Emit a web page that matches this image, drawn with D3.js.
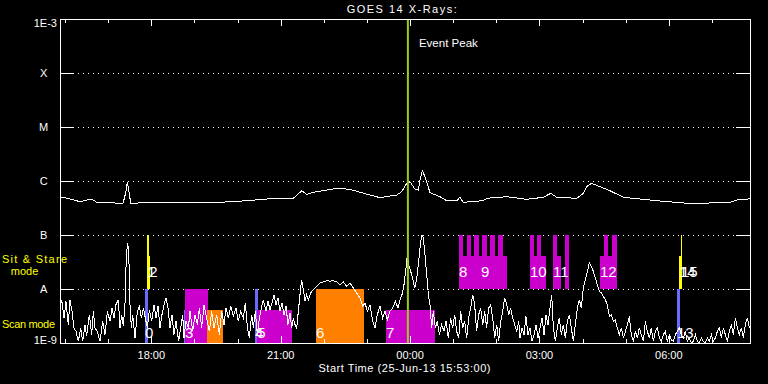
<!DOCTYPE html>
<html><head><meta charset="utf-8">
<script src="https://cdn.jsdelivr.net/npm/d3@7"></script>
<style>html,body{margin:0;padding:0;background:#000}svg{display:block}</style>
</head><body><svg id="c" width="768" height="384"></svg>
<script>
// ---------------- DATA ----------------
const titleText = "GOES 14 X-Rays:";
const xTitleText = "Start Time (25-Jun-13 15:53:00)";
const startTime = "2013-06-25T15:53:00Z";
const durationMin = 960;            // plotted span, minutes after start
const eventPeakMin = 484;           // event peak, minutes after start
const eventLabel = "Event Peak";
const levelFlux = [1e-3, 1e-4, 1e-5, 1e-6, 1e-7, 1e-8, 1e-9];
const levelLabels = ["1E-3", "X", "M", "C", "B", "A", "1E-9"];
const hourTickLabels = ["18:00", "21:00", "00:00", "03:00", "06:00"];

// GOES long channel (1-8 A): [minutes after start, flux W/m^2]
const longChannel = [
 [0,5.12e-7],[13.9,4.64e-7],[27.8,4.14e-7],[44.1,4.64e-7],[51.1,4.03e-7],[87.7,3.86e-7],
 [91.8,6.34e-7],[93.7,9.7e-7],[96.0,6.34e-7],[98.4,3.86e-7],[129.4,4.03e-7],[167.0,3.92e-7],
 [208.7,3.97e-7],[240.7,4.14e-7],[259.8,4.32e-7],[287.6,4.64e-7],[324.6,4.78e-7],[331.5,5.74e-7],
 [336.3,6.61e-7],[343.2,5.67e-7],[352.4,6.18e-7],[371.1,6.81e-7],[385.0,7.32e-7],[403.5,7.02e-7],
 [417.4,6.18e-7],[445.2,4.91e-7],[468.5,5.51e-7],[475.4,6.34e-7],[482.4,9.06e-7],[487.0,9.7e-7],
 [493.9,7.02e-7],[498.5,6.81e-7],[500.9,1.04e-6],[504.1,1.55e-6],[507.8,1.20e-6],[514.8,6.07e-7],
 [528.7,5.12e-7],[538.0,4.32e-7],[551.9,4.32e-7],[556.5,4.99e-7],[561.1,4.03e-7],[588.9,4.32e-7],
 [593.7,4.78e-7],[621.5,5.12e-7],[649.3,4.58e-7],[672.4,4.99e-7],[682.7,5.92e-7],[691.0,4.99e-7],
 [718.9,4.78e-7],[728.1,5.92e-7],[732.8,7.84e-7],[739.3,9.06e-7],[751.3,7.84e-7],[765.2,6.61e-7],
 [783.7,4.99e-7],[811.6,4.58e-7],[834.8,4.26e-7],[862.6,3.97e-7],[885.8,3.75e-7],[908.9,3.97e-7],
 [932.2,4.03e-7],[941.5,4.45e-7],[955.4,4.58e-7],[960,4.78e-7]
];

// GOES short channel (0.5-4 A): [minutes after start, flux in 1e-9 W/m^2]
const shortChannel = [
 [0,4.45],[2.3,6.34],[5.6,2.90],[8.3,5.91],[11.6,2.19],[13.9,6.34],[16.7,3.86],[19.5,1.90],[22.3,1.64],[25.5,1.07],
 [28.8,1.90],[31.5,1.07],[34.8,2.19],[37.1,1.33],[40.8,3.35],[44.1,1.43],[46.4,3.86],[48.7,1.90],[51.9,1.64],[55.7,1.07],
 [59.4,2.52],[62.6,1.43],[65.9,3.86],[69.6,2.52],[72.4,4.45],[75.1,2.90],[77.9,5.13],[81.2,6.34],[83.5,1.90],[85.8,3.35],
 [88.1,2.04],[90.4,5.13],[91.8,24.5],[93.7,71.1],[95.5,57.4],[97.4,5.13],[99.3,1.90],[101.1,3.35],[104.4,1.24],[107.6,3.86],
 [110.4,4.78],[113.2,2.90],[116.0,4.45],[118.7,2.90],[121.5,1.90],[124.3,4.14],[127.5,2.52],[130.8,5.13],[133.6,2.90],[136.4,4.78],
 [139.1,1.90],[141.9,3.35],[144.7,5.13],[147.5,6.81],[150.3,4.45],[153.1,1.90],[155.8,3.35],[158.6,1.43],[161.4,2.52],[165.1,1.07],
 [167.9,1.90],[170.7,3.35],[172.5,1.24],[175.3,2.52],[178.6,1.90],[180.9,3.86],[184.6,1.64],[187.8,3.35],[191.1,2.19],[193.9,4.45],
 [197.1,1.90],[200.4,5.13],[204.1,2.90],[207.8,1.64],[211.0,3.86],[214.3,1.90],[218.0,3.35],[221.7,1.43],[224.9,3.86],[228.2,2.19],
 [231.0,4.45],[234.2,2.90],[237.5,4.78],[241.2,3.12],[244.9,4.45],[248.1,2.52],[251.4,3.86],[255.1,2.90],[257.9,5.51],[260.7,1.90],
 [263.4,1.24],[266.7,3.35],[269.0,1.90],[271.8,3.86],[274.6,1.43],[277.4,2.90],[280.1,4.45],[282.9,6.34],[286.6,3.86],[289.4,5.91],
 [292.2,4.14],[295.0,5.51],[297.8,7.85],[300.5,5.13],[303.3,6.81],[306.1,3.86],[308.9,5.51],[311.7,3.35],[314.5,4.78],[317.2,2.19],
 [320.0,3.59],
 [322.3,1.90],[324.6,2.90],[327.0,2.19],[329.3,1.90],[331.6,3.86],[333.9,7.85],[336.2,14.9],[338.6,9.72],[340.9,5.91],[343.2,7.85],
 [345.5,6.34],[347.8,7.85],[350.1,9.05],[352.5,9.72],[357.1,11.2],[361.7,12.9],[366.4,13.5],[371.0,14.3],[375.7,13.9],[380.3,14.3],
 [384.9,13.5],[389.6,12.0],[394.2,13.5],[398.8,11.2],[403.5,12.9],[408.1,10.4],[412.8,8.43],[417.4,6.81],[421.1,4.78],[424.4,5.51],
 [427.6,3.86],[431.3,5.13],[435.0,2.52],[438.3,1.90],[441.5,3.35],[445.2,4.78],[448.9,2.90],[452.2,3.86],[455.4,2.70],[459.1,3.86],
 [462.8,4.45],[466.6,5.91],[470.3,4.45],[473.1,6.34],[475.8,7.85],[478.6,12.0],[481.4,24.5],[483.3,43.2],[485.1,28.2],[487.9,21.2],
 [490.7,16.0],[493.5,10.4],[496.2,14.9],[499.0,32.5],[501.8,76.3],[503.7,101],[505.5,88],[507.8,43.2],[510.2,18.4],[512.5,7.85],
 [514.8,5.13],[517.1,1.90],[519.4,3.86],[522.2,1.90],[525.0,2.52],[527.8,1.43],[531.0,2.19],[534.3,1.64],[537.1,2.52],[540.3,1.24],
 [543.5,2.90],[546.3,1.90],[549.1,3.35],[551.9,1.64],[554.7,1.24],[557.5,3.86],[560.2,1.90],[563.0,2.52],[565.8,1.24],[568.6,2.90],
 [571.4,4.45],[574.2,7.85],[576.9,5.13],[579.7,1.64],[582.5,3.35],[585.3,4.45],[588.1,2.19],[590.9,3.86],[593.6,1.90],[596.4,4.45],
 [599.2,5.13],[602.0,2.90],[604.8,1.24],[607.6,2.19],[610.3,1.07],[613.1,2.52],[615.9,3.86],[618.7,6.81],[621.5,5.13],[624.3,3.35],
 [627.0,4.45],[629.8,2.90],[632.6,2.19],[635.4,1.64],[638.2,2.52],
 [640.0,1.24],[642.8,1.90],[645.6,1.43],[648.3,3.12],[651.1,1.43],[653.9,1.90],[656.7,1.07],[659.5,1.43],[662.3,2.19],[665.0,1.24],
 [667.8,1.90],[670.6,2.90],[673.4,1.43],[676.2,3.35],[679.0,2.19],[681.7,4.45],[684.1,7.85],[686.4,1.90],[689.2,1.07],[691.9,1.90],
 [694.7,2.90],[697.5,1.43],[700.3,2.19],[703.1,1.24],[705.9,2.52],[708.6,3.35],[711.4,1.90],[714.2,1.07],[717.0,2.19],[719.8,4.45],
 [722.6,6.34],[725.3,4.45],[728.1,10.4],[730.9,14.9],[733.7,21.2],[736.5,30.3],[739.3,26.3],[742.0,21.2],[744.8,16.0],[747.6,12.0],
 [750.4,9.05],[753.2,8.43],[755.9,7.31],[758.7,6.34],[761.5,5.13],[764.3,3.12],[767.1,3.35],[769.9,2.52],[772.6,2.70],[775.4,1.90],
 [778.2,1.43],[781.0,1.90],[783.8,1.24],[786.6,1.64],[789.3,2.19],[792.1,3.12],[794.9,1.43],[797.7,1.07],[800.5,1.64],[803.3,1.24],
 [806.0,1.90],[808.8,1.43],[811.6,1.07],[814.4,2.52],[817.2,1.64],[820.0,1.24],[822.7,1.90],[825.5,1.07],[828.3,1.64],[831.1,1.90],
 [833.9,1.24],[836.7,1.07],[839.4,1.43],[842.2,1.64],[845.0,1.07],[847.8,1.43],[850.6,1.15],[853.3,1.07],[856.1,1.43],[858.9,1.64],
 [861.7,1.90],[864.5,1.43],[867.3,1.24],[870.0,1.64],[872.8,1.07],[875.6,1.24],[878.4,1.00],[881.2,1.07],[884.0,1.43],[886.7,1.07],
 [889.5,1.00],[892.3,1.24],[895.1,1.07],[897.9,1.00],[900.7,1.24],[903.4,1.07],[906.2,1.43],[909.0,1.07],[911.8,1.24],[914.6,1.64],
 [917.4,1.90],[920.1,1.24],[922.9,1.90],[925.7,1.43],[928.5,1.07],[931.3,1.64],[934.1,2.19],[936.8,1.43],[939.6,2.90],[942.4,1.90],
 [945.2,1.43],[948.0,1.90],[950.7,1.24],[953.5,2.19],[956.3,2.90],[959.1,1.90]
];

// observing modes: 0 = scan, 1 = sit & stare ; flux band each occupies
const modeLabelLines = [["Scan mode"], ["Sit & Stare", "mode"]];
const modeBands = [[1e-9, 1e-8], [1e-8, 1e-7]];

// IRIS observations: [start min, end min, mode, fraction of band (log), kind, label]
const observations = [
 [118.3, 122.4, 0, 1,    "cal",   "0"],
 [172.5, 173.9, 0, 0.61, "cal",   ""],
 [173.9, 205.5, 0, 1,    "raster","3"],
 [204.5, 226.8, 0, 0.61, "large", ""],
 [271.3, 275.5, 0, 1,    "cal",   "4"],
 [274.5, 322.3, 0, 0.61, "raster","5"],
 [356.2, 422.9, 0, 1,    "large", "6"],
 [453.6, 521.7, 0, 0.61, "raster","7"],
 [858.4, 862.6, 0, 1,    "cal",   "13"],
 [121.0, 123.8, 1, 1,    "sns",   "1"],
 [124.2, 125.6, 1, 0.61, "sns",   "2"],
 [555.1, 585.8, 1, 0.61, "raster","8"],
 [585.8, 621.9, 1, 0.61, "raster","9"],
 [555.1, 561.1, 1, 1,    "raster",""],
 [566.7, 572.3, 1, 1,    "raster",""],
 [576.4, 582.5, 1, 1,    "raster",""],
 [587.5, 593.7, 1, 1,    "raster",""],
 [598.7, 604.8, 1, 1,    "raster",""],
 [609.8, 615.9, 1, 1,    "raster",""],
 [653.9, 676.2, 1, 0.61, "raster","10"],
 [653.9, 659.5, 1, 1,    "raster",""],
 [663.7, 669.2, 1, 1,    "raster",""],
 [685.9, 697.0, 1, 0.61, "raster","11"],
 [685.9, 691.5, 1, 1,    "raster",""],
 [702.6, 708.2, 1, 1,    "raster",""],
 [751.3, 775.0, 1, 0.61, "raster","12"],
 [756.9, 762.4, 1, 1,    "raster",""],
 [768.0, 775.0, 1, 1,    "raster",""],
 [861.2, 865.4, 1, 0.61, "sns",   "14"],
 [864.0, 865.4, 1, 1,    "sns",   "15"]
];

// ---------------- STYLE ----------------
const kindColor = {cal: "#6a6aff", raster: "#cc00cc", large: "#ff8000", sns: "#ffff00"};
const FONT = "'Liberation Sans', Arial, sans-serif";

// ---------------- DRAW ----------------
const svg = d3.select("#c");
const W = 768, H = 384;
const box = {l: 60, r: 750, t: 19, b: 343};
const t0 = new Date(startTime);
const toDate = m => new Date(t0.getTime() + m * 60000);
const x = d3.scaleUtc().domain([t0, toDate(durationMin)]).range([box.l, box.r]);
const y = d3.scaleLog().domain([1e-9, 1e-3]).range([box.b, box.t]);

svg.append("rect").attr("width", W).attr("height", H).attr("fill", "#000");

svg.append("defs").append("clipPath").attr("id", "clip")
  .append("rect").attr("x", box.l).attr("y", box.t)
  .attr("width", box.r - box.l).attr("height", box.b - box.t);

// dotted grid lines + side ticks for each level
const grid = svg.append("g").attr("shape-rendering", "crispEdges");
levelFlux.forEach((v, i) => {
  if (i === 0 || i === levelFlux.length - 1) return;
  const yy = Math.round(y(v)) + 0.5;
  grid.append("line").attr("x1", box.l + 18).attr("x2", box.r - 14)
    .attr("y1", yy).attr("y2", yy).attr("stroke", "#fff")
    .attr("stroke-dasharray", "1,4");
  grid.append("line").attr("x1", box.l).attr("x2", box.l + 14)
    .attr("y1", yy).attr("y2", yy).attr("stroke", "#fff");
  grid.append("line").attr("x1", box.r - 14).attr("x2", box.r)
    .attr("y1", yy).attr("y2", yy).attr("stroke", "#fff");
});

// observation boxes
const bandTop = (mode, frac) => {
  const [lo, hi] = modeBands[mode];
  return lo * Math.pow(hi / lo, frac);
};
svg.append("g").attr("shape-rendering", "crispEdges")
  .selectAll("rect").data(observations).join("rect")
  .attr("x", d => x(toDate(d[0])))
  .attr("width", d => Math.max(1, x(toDate(d[1])) - x(toDate(d[0]))))
  .attr("y", d => y(bandTop(d[2], d[3])))
  .attr("height", d => y(modeBands[d[2]][0]) - y(bandTop(d[2], d[3])))
  .attr("fill", d => kindColor[d[4]]);

// curves
const plot = svg.append("g").attr("clip-path", "url(#clip)");
const lineGen = d3.line().x(d => x(toDate(d[0]))).y(d => y(d[1]));
plot.append("path").datum(longChannel)
  .attr("d", lineGen).attr("fill", "none").attr("stroke", "#fff").attr("stroke-width", 1)
  .attr("shape-rendering", "crispEdges");
plot.append("path").datum(shortChannel.map(d => [d[0], Math.max(1e-9, d[1] * 1e-9)]))
  .attr("d", lineGen).attr("fill", "none").attr("stroke", "#fff").attr("stroke-width", 1)
  .attr("shape-rendering", "crispEdges");

// observation labels
const labelBase = [y(modeBands[0][0]) - 5, y(modeBands[1][0]) - 12];
svg.append("g").selectAll("text").data(observations.filter(d => d[5] !== "")).join("text")
  .attr("x", d => x(toDate(d[0])))
  .attr("y", d => labelBase[d[2]])
  .attr("fill", "#fff").attr("font-family", FONT).attr("font-size", 15)
  .text(d => d[5]);

// event peak line
const ex = x(toDate(eventPeakMin));
svg.append("rect").attr("x", ex - 1).attr("y", box.t).attr("width", 2)
  .attr("height", box.b - box.t).attr("fill", "#9acd1a");
svg.append("text").attr("x", ex + 11).attr("y", 46.5)
  .attr("fill", "#fff").attr("font-family", FONT).attr("font-size", 11)
  .attr("textLength", 59).attr("lengthAdjust", "spacingAndGlyphs").text(eventLabel);

// frame
const frame = svg.append("g").attr("shape-rendering", "crispEdges").attr("stroke", "#fff");
frame.append("rect").attr("x", box.l + 0.5).attr("y", box.t + 0.5)
  .attr("width", box.r - box.l).attr("height", box.b - box.t).attr("fill", "none");

// hour ticks (top & bottom)
const hours = d3.utcHour.range(toDate(1), toDate(durationMin));
const fmt = d3.utcFormat("%H:%M");
hours.forEach(h => {
  const major = hourTickLabels.includes(fmt(h));
  const len = major ? 7 : 4;
  const xx = Math.round(x(h)) + 0.5;
  frame.append("line").attr("x1", xx).attr("x2", xx).attr("y1", box.t).attr("y2", box.t + len);
  frame.append("line").attr("x1", xx).attr("x2", xx).attr("y1", box.b).attr("y2", box.b - len);
});

// x tick labels
const txt = svg.append("g").attr("fill", "#fff").attr("font-family", FONT).attr("font-size", 11);
hours.filter(h => hourTickLabels.includes(fmt(h))).forEach(h => {
  txt.append("text").attr("x", x(h)).attr("y", 358.5).attr("text-anchor", "middle").text(fmt(h));
});

// y level labels
levelLabels.forEach((lab, i) => {
  let yy = y(levelFlux[i]) + 4.3;
  if (i === 0) yy += 3.4;
  if (i === levelLabels.length - 1) yy -= 3.3;
  const isNum = lab.length > 1;
  txt.append("text").attr("x", isNum ? 57 : 43.7).attr("y", yy)
    .attr("text-anchor", isNum ? "end" : "middle").text(lab);
});

// titles
txt.append("text").attr("x", 401.7).attr("y", 13.3).attr("text-anchor", "middle")
  .attr("textLength", 110).attr("lengthAdjust", "spacing").text(titleText);
txt.append("text").attr("x", 404.5).attr("y", 371.7).attr("text-anchor", "middle")
  .attr("textLength", 172).attr("lengthAdjust", "spacing").text(xTitleText);

// mode labels (yellow)
const ml = svg.append("g").attr("fill", "#ffff00").attr("font-family", FONT).attr("font-size", 11);
ml.append("text").attr("x", 2).attr("y", 263.3).attr("textLength", 65)
  .attr("lengthAdjust", "spacing").text(modeLabelLines[1][0]);
ml.append("text").attr("x", 24.5).attr("y", 275.3).attr("text-anchor", "middle")
  .text(modeLabelLines[1][1]);
ml.append("text").attr("x", 2).attr("y", 328.3).attr("textLength", 53)
  .attr("lengthAdjust", "spacing").text(modeLabelLines[0][0]);
</script>
</body></html>
